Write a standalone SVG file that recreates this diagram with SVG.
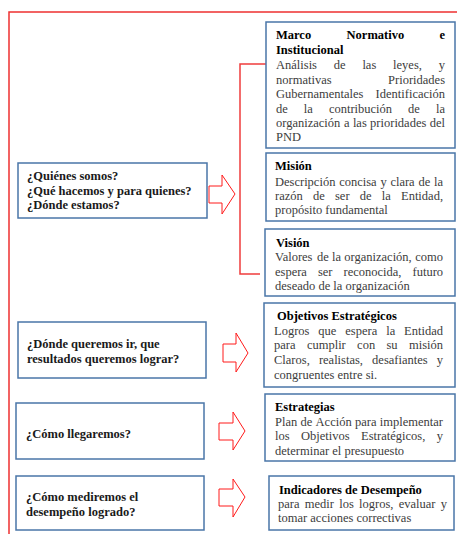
<svg xmlns="http://www.w3.org/2000/svg" width="457" height="534" viewBox="0 0 457 534">
<style>
.box{fill:#fff;stroke:#4a76a8;stroke-width:1.5}
.arr{fill:#fff;stroke:#ff1a1a;stroke-width:1}
.frame{fill:none;stroke:#ee3030;stroke-width:1.5}
.br{fill:none;stroke:#f03c3c;stroke-width:1.5}
text{font-family:"Liberation Serif","Times New Roman",serif;font-size:12.5px}
.h{font-weight:bold;fill:#000}
.b{fill:#3c3c3c}
.q{font-weight:bold;fill:#1a1a1a}
</style>
<rect width="457" height="534" fill="#fff"/>
<g id="connectors">
<path class="frame" d="M9,534 V12 H457"/>
<path class="br" d="M266,64 H240 V274 H260"/>
<polygon class="arr" points="209,186 222,186 222,175 235,194 222,214 222,203 209,203"/>
<polygon class="arr" points="223,344 236,344 236,333 248,353 236,372 236,362 223,362"/>
<polygon class="arr" points="219,423 233,423 233,412 245,431 233,450 233,440 219,440"/>
<polygon class="arr" points="219,489 233,489 233,479 245,497 233,517 233,506 219,506"/>
</g>
<g id="marco">
<rect class="box" x="266" y="22" width="189" height="126"/>
<text class="h" y="39"><tspan x="276">Marco</tspan><tspan x="346.6">Normativo</tspan><tspan x="439.4">e</tspan></text>
<text class="h" x="276" y="54">Institucional</text>
<text class="b" y="69"><tspan x="276">Análisis</tspan><tspan x="333.8">de</tspan><tspan x="362.4">las</tspan><tspan x="393.1">leyes,</tspan><tspan x="438.7">y</tspan></text>
<text class="b" y="84"><tspan x="276">normativas</tspan><tspan x="388.1">Prioridades</tspan></text>
<text class="b" y="98"><tspan x="276">Gubernamentales</tspan><tspan x="375.6">Identificación</tspan></text>
<text class="b" y="113"><tspan x="276">de</tspan><tspan x="303.8">la</tspan><tspan x="328.9">contribución</tspan><tspan x="408.1">de</tspan><tspan x="436">la</tspan></text>
<text class="b" y="127"><tspan x="276">organización</tspan><tspan x="343.9">a</tspan><tspan x="352.9">las</tspan><tspan x="370.1">prioridades</tspan><tspan x="429.7">del</tspan></text>
<text class="b" x="276" y="141">PND</text>
</g>
<g id="mision">
<rect class="box" x="266" y="153" width="189" height="68"/>
<text class="h" x="275" y="170">Misión</text>
<text class="b" y="186"><tspan x="275">Descripción</tspan><tspan x="339.2">concisa</tspan><tspan x="380.4">y</tspan><tspan x="390.4">clara</tspan><tspan x="418.4">de</tspan><tspan x="434">la</tspan></text>
<text class="b" y="200"><tspan x="275">razón</tspan><tspan x="313">de</tspan><tspan x="335">ser</tspan><tspan x="359.8">de</tspan><tspan x="381.8">la</tspan><tspan x="401">Entidad,</tspan></text>
<text class="b" x="275" y="214">propósito fundamental</text>
</g>
<g id="vision">
<rect class="box" x="265" y="229" width="190" height="67"/>
<text class="h" x="276" y="247">Visión</text>
<text class="b" y="261"><tspan x="275">Valores</tspan><tspan x="317.1">de</tspan><tspan x="332.1">la</tspan><tspan x="344.3">organización,</tspan><tspan x="415.2">como</tspan></text>
<text class="b" y="276"><tspan x="275">espera</tspan><tspan x="317.9">ser</tspan><tspan x="343.5">reconocida,</tspan><tspan x="412.5">futuro</tspan></text>
<text class="b" x="275" y="290">deseado de la organización</text>
</g>
<g id="q1">
<rect class="box" x="18" y="163" width="189" height="55"/>
<text class="q" x="27" y="180">¿Quiénes somos?</text>
<text class="q" x="27" y="194.5">¿Qué hacemos y para quienes?</text>
<text class="q" x="27" y="209">¿Dónde estamos?</text>
</g>
<g id="objetivos">
<rect class="box" x="264" y="303" width="191" height="84"/>
<text class="h" x="277" y="320">Objetivos Estratégicos</text>
<text class="b" y="335"><tspan x="274">Logros</tspan><tspan x="318.3">que</tspan><tspan x="345.3">espera</tspan><tspan x="386.2">la</tspan><tspan x="404.1">Entidad</tspan></text>
<text class="b" y="349"><tspan x="274">para</tspan><tspan x="306.9">cumplir</tspan><tspan x="357.1">con</tspan><tspan x="386.5">su</tspan><tspan x="409">misión</tspan></text>
<text class="b" y="364"><tspan x="274">Claros,</tspan><tspan x="318.9">realistas,</tspan><tspan x="372.1">desafiantes</tspan><tspan x="436.7">y</tspan></text>
<text class="b" x="274" y="379">congruentes entre si.</text>
</g>
<g id="q2">
<rect class="box" x="18" y="322" width="188" height="56"/>
<text class="q" x="27" y="347.5">¿Dónde queremos ir, que</text>
<text class="q" x="27" y="363">resultados queremos lograr?</text>
</g>
<g id="estrategias">
<rect class="box" x="265" y="394" width="190" height="67"/>
<text class="h" x="275" y="411">Estrategias</text>
<text class="b" y="426"><tspan x="275">Plan</tspan><tspan x="300.5">de</tspan><tspan x="315.6">Acción</tspan><tspan x="355">para</tspan><tspan x="379.8">implementar</tspan></text>
<text class="b" y="440"><tspan x="275">los</tspan><tspan x="301">Objetivos</tspan><tspan x="361.1">Estratégicos,</tspan><tspan x="436.7">y</tspan></text>
<text class="b" x="275" y="455">determinar el presupuesto</text>
</g>
<g id="q3">
<rect class="box" x="16" y="403" width="188" height="56"/>
<text class="q" x="26" y="437.5">¿Cómo llegaremos?</text>
</g>
<g id="indicadores">
<rect class="box" x="269" y="476" width="185" height="54"/>
<text class="h" x="279" y="494">Indicadores de Desempeño</text>
<text class="b" y="508"><tspan x="278">para</tspan><tspan x="304.8">medir</tspan><tspan x="339.2">los</tspan><tspan x="359.1">logros,</tspan><tspan x="398.7">evaluar</tspan><tspan x="440.7">y</tspan></text>
<text class="b" x="278" y="522">tomar acciones correctivas</text>
</g>
<g id="q4">
<rect class="box" x="16" y="476" width="188" height="54"/>
<text class="q" x="26" y="501">¿Cómo mediremos el</text>
<text class="q" x="26" y="516">desempeño logrado?</text>
</g>
</svg>
